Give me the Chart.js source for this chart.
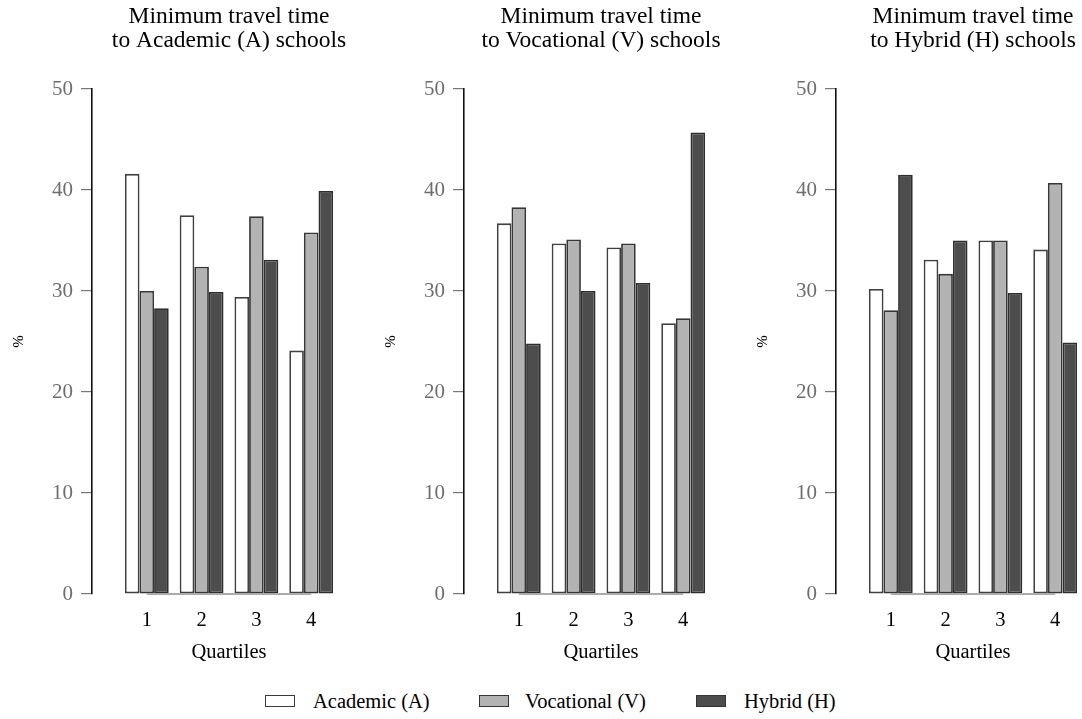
<!DOCTYPE html>
<html>
<head>
<meta charset="utf-8">
<script src="https://cdn.jsdelivr.net/npm/chart.js@4.4.1/dist/chart.umd.min.js"></script>
<style>
  html, body { margin: 0; padding: 0; background: #fff; }
  #wrap { position: relative; width: 1082px; height: 719px; overflow: hidden; background: #fff; }
  .panel { position: absolute; top: 0; width: 372px; height: 680px; }
  .legend-item { position: absolute; top: 690px; height: 22px; font-family: "Liberation Serif", "Times New Roman", serif; font-size: 20.5px; color: #000; }
  .legend-box { position: absolute; top: 5px; width: 28px; height: 10px; border: 1.5px solid #333; }
  .legend-text { position: absolute; top: -1px; white-space: nowrap; line-height: 24px; }
</style>
</head>
<body>
<div id="wrap">
  <div class="panel" style="left:0px"><canvas id="c0"></canvas></div>
  <div class="panel" style="left:372px"><canvas id="c1"></canvas></div>
  <div class="panel" style="left:744px"><canvas id="c2"></canvas></div>

  <div class="legend-item" style="left:265px">
    <div class="legend-box" style="left:0; background:#ffffff; border-color:#3a3a3a"></div>
    <div class="legend-text" style="left:48px">Academic (A)</div>
  </div>
  <div class="legend-item" style="left:479px">
    <div class="legend-box" style="left:0; background:#b3b3b3"></div>
    <div class="legend-text" style="left:46px">Vocational (V)</div>
  </div>
  <div class="legend-item" style="left:696px">
    <div class="legend-box" style="left:0; background:#4d4d4d"></div>
    <div class="legend-text" style="left:48px">Hybrid (H)</div>
  </div>
</div>

<script>
// Quartiles of minimum travel time (x axis)
const quartiles = [1, 2, 3, 4];
const yTicks = [0, 10, 20, 30, 40, 50];

// Panel titles
const panelTitles = [
  ["Minimum travel time", "to Academic (A) schools"],
  ["Minimum travel time", "to Vocational (V) schools"],
  ["Minimum travel time", "to Hybrid (H) schools"]
];

// Share (%) of pupils choosing each school type, by quartile
// Panel 1: travel time to Academic schools
const acadA = [41.6, 37.5, 29.4, 24.1];
const acadV = [30.0, 32.4, 37.4, 35.8];
const acadH = [28.3, 29.9, 33.1, 39.9];
// Panel 2: travel time to Vocational schools
const vocA = [36.7, 34.7, 34.3, 26.8];
const vocV = [38.3, 35.1, 34.7, 27.3];
const vocH = [24.8, 30.0, 30.8, 45.7];
// Panel 3: travel time to Hybrid schools
const hybA = [30.2, 33.1, 35.0, 34.1];
const hybV = [28.1, 31.7, 35.0, 40.7];
const hybH = [41.5, 35.0, 29.8, 24.9];

const seriesNames = ["Academic (A)", "Vocational (V)", "Hybrid (H)"];
const fills = ["#ffffff", "#b3b3b3", "#4d4d4d"];
const borders = ["#404040", "#363636", "#2e2e2e"];

const panels = [
  [acadA, acadV, acadH],
  [vocA, vocV, vocH],
  [hybA, hybV, hybH]
];

const FONT = '"Liberation Serif", "Times New Roman", serif';

// gray baseline spanning the first to last quartile, drawn over the bars
const baselinePlugin = {
  id: 'baseline',
  afterDatasetsDraw(chart) {
    const x = chart.scales.x, y = chart.scales.y;
    const ctx = chart.ctx;
    ctx.save();
    ctx.strokeStyle = '#ababab';
    ctx.lineWidth = 2;
    ctx.beginPath();
    const y0 = y.getPixelForValue(0);
    ctx.moveTo(x.getPixelForValue(quartiles[0]), y0);
    ctx.lineTo(x.getPixelForValue(quartiles[quartiles.length - 1]), y0);
    ctx.stroke();
    ctx.restore();
  }
};

panels.forEach((series, p) => {
  const datasets = series.map((vals, s) => ({
    label: seriesNames[s],
    data: quartiles.map((q, i) => ({ x: q, y: vals[i] })),
    backgroundColor: fills[s],
    borderColor: borders[s],
    borderWidth: 1.8,
    borderSkipped: false,
    categoryPercentage: 0.8,
    barPercentage: 1.0
  }));

  new Chart(document.getElementById('c' + p), {
    type: 'bar',
    data: { datasets },
    options: {
      responsive: true,
      maintainAspectRatio: false,
      animation: false,
      events: [],
      layout: { padding: { left: 0, right: 6, top: 0, bottom: 0 } },
      plugins: {
        legend: { display: false },
        tooltip: { enabled: false },
        title: {
          display: true,
          text: panelTitles[p],
          fullSize: false,
          color: '#000',
          font: { family: FONT, size: 23.5, weight: 'normal', lineHeight: '24px' },
          padding: { top: 5, bottom: 36 }
        }
      },
      scales: {
        x: {
          type: 'linear',
          offset: false,
          min: 0,
          max: 5,
          grid: { display: false, drawTicks: false },
          border: { display: false },
          afterBuildTicks: (axis) => { axis.ticks = quartiles.map(v => ({ value: v })); },
          afterFit: (axis) => { axis.height = 86; },
          ticks: {
            autoSkip: false,
            maxRotation: 0,
            padding: 14,
            color: '#000',
            font: { family: FONT, size: 20.5 },
            callback: (v) => String(v)
          },
          title: {
            display: true,
            text: 'Quartiles',
            color: '#000',
            font: { family: FONT, size: 20.5, lineHeight: 1.2 },
            padding: { top: 0, bottom: 15 }
          }
        },
        y: {
          min: 0,
          max: 50,
          afterBuildTicks: (axis) => { axis.ticks = yTicks.map(v => ({ value: v })); },
          afterFit: (axis) => { axis.width = 92; },
          grid: {
            drawOnChartArea: false,
            drawTicks: true,
            tickLength: 11,
            color: '#777777',
            lineWidth: 1.2
          },
          border: { display: true, color: '#111111', width: 1.6 },
          ticks: {
            padding: 8,
            color: '#6e6e6e',
            font: { family: FONT, size: 21 }
          },
          title: {
            display: true,
            text: '%',
            color: '#000',
            font: { family: FONT, size: 15, lineHeight: 1.2 },
            padding: { top: 10, bottom: 0 }
          }
        }
      }
    },
    plugins: [baselinePlugin]
  });
});
</script>
</body>
</html>
